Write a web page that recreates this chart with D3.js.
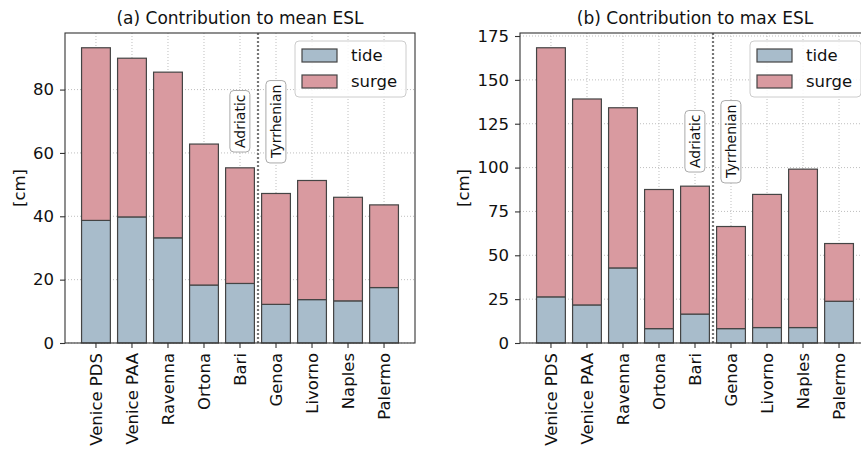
<!DOCTYPE html>
<html>
<head>
<meta charset="utf-8">
<script src="https://cdn.jsdelivr.net/npm/d3@7"></script>
<style>
  body { margin: 0; background: #fff; }
  svg { display: block; font-family: "DejaVu Sans", sans-serif; }
</style>
</head>
<body>
<svg id="chart" width="861" height="450"></svg>
<script>
var stations = ["Venice PDS", "Venice PAA", "Ravenna", "Ortona", "Bari", "Genoa", "Livorno", "Naples", "Palermo"];

// (a) mean ESL contributions [cm]
var meanTide  = [38.7, 39.8, 33.2, 18.3, 18.8, 12.2, 13.7, 13.3, 17.5];
var meanSurge = [54.5, 50.1, 52.3, 44.5, 36.5, 35.0, 37.6, 32.7, 26.1];
var meanTicks = [0, 20, 40, 60, 80];

// (b) max ESL contributions [cm]
var maxTide  = [26.3, 21.7, 42.8, 8.2, 16.5, 8.2, 8.8, 8.8, 23.8];
var maxSurge = [142.0, 117.4, 91.3, 79.3, 72.9, 58.2, 75.9, 90.3, 32.9];
var maxTicks = [0, 25, 50, 75, 100, 125, 150, 175];

var tideColor = "#a8bccb";
var surgeColor = "#d99aa0";
var edgeColor = "#444";

var svg = d3.select("#chart");

function drawPanel(opts) {
	var left = opts.left, right = opts.right, top = opts.top, bottom = opts.bottom;
	var g = svg.append("g");

	var x = d3.scaleBand()
		.domain(stations)
		.range([left, right])
		.paddingInner(0.2)
		.paddingOuter(0.46);

	var totals = opts.tide.map(function(t, i) { return t + opts.surge[i]; });
	var y = d3.scaleLinear()
		.domain([0, d3.max(totals) * 1.05])
		.range([bottom, top]);

	// grid
	g.append("g").selectAll("line.gy")
		.data(opts.ticks)
		.enter().append("line")
		.attr("x1", left).attr("x2", right)
		.attr("y1", function(d) { return y(d); })
		.attr("y2", function(d) { return y(d); })
		.attr("stroke", "#b8b8b8")
		.attr("stroke-width", 0.9)
		.attr("stroke-dasharray", "1,2");

	g.append("g").selectAll("line.gx")
		.data(stations)
		.enter().append("line")
		.attr("x1", function(d) { return x(d) + x.bandwidth() / 2; })
		.attr("x2", function(d) { return x(d) + x.bandwidth() / 2; })
		.attr("y1", top).attr("y2", bottom)
		.attr("stroke", "#b8b8b8")
		.attr("stroke-width", 0.9)
		.attr("stroke-dasharray", "1,2");

	// tide bars
	g.append("g").selectAll("rect")
		.data(opts.tide)
		.enter().append("rect")
		.attr("x", function(d, i) { return x(stations[i]); })
		.attr("width", x.bandwidth())
		.attr("y", function(d) { return y(d); })
		.attr("height", function(d) { return y(0) - y(d); })
		.attr("fill", tideColor)
		.attr("stroke", edgeColor)
		.attr("stroke-width", 1.2);

	// surge bars stacked on tide
	g.append("g").selectAll("rect")
		.data(opts.surge)
		.enter().append("rect")
		.attr("x", function(d, i) { return x(stations[i]); })
		.attr("width", x.bandwidth())
		.attr("y", function(d, i) { return y(opts.tide[i] + d); })
		.attr("height", function(d, i) { return y(opts.tide[i]) - y(opts.tide[i] + d); })
		.attr("fill", surgeColor)
		.attr("stroke", edgeColor)
		.attr("stroke-width", 1.2);

	// separator between Adriatic and Tyrrhenian
	var sepX = x("Bari") + x.bandwidth() + x.step() * 0.1;
	g.append("line")
		.attr("x1", sepX).attr("x2", sepX)
		.attr("y1", top).attr("y2", bottom)
		.attr("stroke", "#777")
		.attr("stroke-width", 2.2)
		.attr("stroke-dasharray", "2,2");

	// sea labels
	var seaLabels = [["Adriatic", "Bari"], ["Tyrrhenian", "Genoa"]];
	seaLabels.forEach(function(s) {
		var cx = x(s[1]) + x.bandwidth() / 2;
		var cy = y(opts.labelY);
		var lg = g.append("g").attr("transform", "translate(" + cx + "," + cy + ") rotate(-90)");
		var t = lg.append("text")
			.attr("text-anchor", "middle")
			.attr("dy", "0.35em")
			.attr("font-size", 14)
			.attr("fill", "#111")
			.text(s[0]);
		var bb = t.node().getBBox();
		lg.insert("rect", "text")
			.attr("x", bb.x - 4).attr("y", bb.y - 2)
			.attr("width", bb.width + 8).attr("height", bb.height + 4)
			.attr("rx", 4)
			.attr("fill", "#fff")
			.attr("stroke", "#aaa")
			.attr("stroke-width", 1);
	});

	// frame
	g.append("rect")
		.attr("x", left).attr("y", top)
		.attr("width", right - left).attr("height", bottom - top)
		.attr("fill", "none")
		.attr("stroke", "#333")
		.attr("stroke-width", 1.1);

	// axes
	var yAxis = g.append("g")
		.attr("transform", "translate(" + left + ",0)")
		.call(d3.axisLeft(y).tickValues(opts.ticks).tickSize(5).tickPadding(6));
	var xAxis = g.append("g")
		.attr("transform", "translate(0," + bottom + ")")
		.call(d3.axisBottom(x).tickSize(5).tickPadding(5));
	[yAxis, xAxis].forEach(function(a) {
		a.select(".domain").remove();
		a.selectAll("line").attr("stroke", "#333").attr("stroke-width", 1.1);
		a.selectAll("text").attr("font-size", 16.5).attr("fill", "#111")
			.attr("font-family", "DejaVu Sans, sans-serif");
	});
	xAxis.selectAll("text")
		.attr("transform", "rotate(-90)")
		.attr("text-anchor", "end")
		.attr("x", -10)
		.attr("y", 0)
		.attr("dy", "0.35em");

	// y label
	svg.append("text")
		.attr("transform", "translate(" + opts.ylabelX + "," + ((top + bottom) / 2) + ") rotate(-90)")
		.attr("text-anchor", "middle")
		.attr("dy", "0.35em")
		.attr("font-size", 16.5)
		.attr("fill", "#111")
		.text("[cm]");

	// title
	svg.append("text")
		.attr("x", (left + right) / 2)
		.attr("y", 24)
		.attr("text-anchor", "middle")
		.attr("font-size", 17)
		.attr("fill", "#111")
		.text(opts.title);

	// legend
	var lx = right - 120, ly = top + 8;
	var leg = g.append("g").attr("transform", "translate(" + lx + "," + ly + ")");
	leg.append("rect")
		.attr("width", 111).attr("height", 56)
		.attr("rx", 4)
		.attr("fill", "#fff").attr("fill-opacity", 0.85)
		.attr("stroke", "#ccc");
	[["tide", tideColor], ["surge", surgeColor]].forEach(function(l, i) {
		leg.append("rect")
			.attr("x", 7).attr("y", 8 + i * 26)
			.attr("width", 35).attr("height", 13)
			.attr("fill", l[1]).attr("stroke", edgeColor).attr("stroke-width", 1.2);
		leg.append("text")
			.attr("x", 56).attr("y", 14.5 + i * 26)
			.attr("dy", "0.35em")
			.attr("font-size", 16.5).attr("fill", "#111")
			.text(l[0]);
	});
}

drawPanel({ left: 65, right: 415, top: 33, bottom: 343, tide: meanTide, surge: meanSurge,
	ticks: meanTicks, labelY: 70, ylabelX: 19, title: "(a) Contribution to mean ESL" });
drawPanel({ left: 520, right: 870, top: 33, bottom: 343, tide: maxTide, surge: maxSurge,
	ticks: maxTicks, labelY: 115, ylabelX: 463, title: "(b) Contribution to max ESL" });
</script>
</body>
</html>
